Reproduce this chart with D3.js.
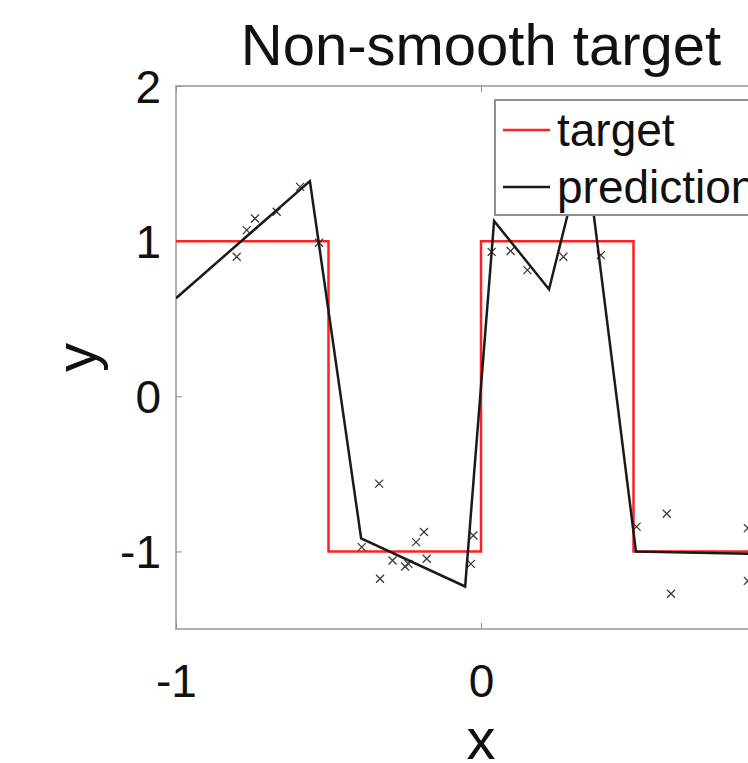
<!DOCTYPE html>
<html>
<head>
<meta charset="utf-8">
<script src="https://cdn.jsdelivr.net/npm/d3@7"></script>
<style>
  body { margin: 0; background: #fff; }
  text { font-family: "Liberation Sans", Arial, sans-serif; fill: #111; }
</style>
</head>
<body>
<svg id="svg_chart"></svg>
<script>
let chartWidth = 748;
let chartHeight = 763;

// square-wave target
let targetX = [-1, -0.5, -0.5, 0, 0, 0.5, 0.5, 1];
let targetY = [1, 1, -1, -1, 1, 1, -1, -1];

// piecewise linear prediction
let predX = [-1, -0.561, -0.393, -0.052, 0.043, 0.223, 0.341, 0.508, 1.0];
let predY = [0.632, 1.387, -0.916, -1.226, 1.13, 0.69, 1.62, -1.0, -1.02];

// noisy training samples
let sampleX = [-0.801, -0.768, -0.741, -0.670, -0.593, -0.531,
    -0.391, -0.334, -0.331, -0.290, -0.249, -0.238, -0.213, -0.187, -0.178, -0.033, -0.025,
    0.035, 0.097, 0.152, 0.270, 0.393,
    0.510, 0.609, 0.623, 0.875, 0.875];
let sampleY = [0.899, 1.071, 1.146, 1.189, 1.35, 0.99,
    -0.972, -0.563, -1.176, -1.058, -1.097, -1.080, -0.940, -0.875, -1.047, -1.080, -0.897,
    0.931, 0.937, 0.813, 0.899, 0.910,
    -0.84, -0.757, -1.273, -0.85, -1.19];

let xTicks = [-1, 0, 1];
let yTicks = [-1, 0, 1, 2];
let legendLabels = ["target", "prediction"];
let legendColors = ["#ff2020", "#1a1a1a"];

let svg = d3.select("#svg_chart")
    .attr("width", chartWidth)
    .attr("height", chartHeight);

let x = d3.scaleLinear().domain([-1, 1]).range([176, 786]);
let y = d3.scaleLinear().domain([-1.5, 2]).range([629, 86]);

svg.append("defs").append("clipPath").attr("id", "plotClip")
    .append("rect")
    .attr("x", x(-1)).attr("y", y(2))
    .attr("width", x(1) - x(-1)).attr("height", y(-1.5) - y(2));

// axes box
svg.append("rect")
    .attr("x", x(-1)).attr("y", y(2))
    .attr("width", x(1) - x(-1)).attr("height", y(-1.5) - y(2))
    .attr("fill", "white")
    .attr("stroke", "#b0b0b0")
    .attr("stroke-width", 2);

// ticks (inside, MATLAB style); plain hyphen for negatives
let fmt = d => String(d);

let xAxis = svg.append("g")
    .attr("transform", "translate(0," + y(-1.5) + ")")
    .call(d3.axisBottom(x).tickValues(xTicks).tickSizeInner(-6).tickSizeOuter(0).tickFormat(fmt));
xAxis.select(".domain").remove();
xAxis.selectAll("line").attr("stroke", "#909090");
xAxis.selectAll("text")
    .attr("y", 68).attr("dy", 0)
    .style("font-size", "46px");

let xAxisTop = svg.append("g")
    .attr("transform", "translate(0," + y(2) + ")")
    .call(d3.axisTop(x).tickValues(xTicks).tickSizeInner(-6).tickSizeOuter(0).tickFormat(""));
xAxisTop.select(".domain").remove();
xAxisTop.selectAll("line").attr("stroke", "#909090");

let yAxis = svg.append("g")
    .attr("transform", "translate(" + x(-1) + ",0)")
    .call(d3.axisLeft(y).tickValues(yTicks).tickSizeInner(-6).tickSizeOuter(0).tickFormat(fmt));
yAxis.select(".domain").remove();
yAxis.selectAll("line").attr("stroke", "#909090");
yAxis.selectAll("text")
    .attr("x", -15).attr("dy", "0.36em")
    .style("font-size", "46px");

let plot = svg.append("g").attr("clip-path", "url(#plotClip)");

let line = d3.line()
    .x(d => x(d[0]))
    .y(d => y(d[1]));

plot.append("path")
    .datum(d3.zip(targetX, targetY))
    .attr("d", line)
    .attr("fill", "none")
    .attr("stroke", legendColors[0])
    .attr("stroke-width", 2.5);

// x markers
let m = 4;
plot.selectAll(".sample")
    .data(d3.zip(sampleX, sampleY))
    .enter().append("path")
    .attr("class", "sample")
    .attr("d", d => {
        let cx = x(d[0]), cy = y(d[1]);
        return "M" + (cx - m) + "," + (cy - m) + "L" + (cx + m) + "," + (cy + m) +
            "M" + (cx - m) + "," + (cy + m) + "L" + (cx + m) + "," + (cy - m);
    })
    .attr("stroke", "#3a3a3a")
    .attr("stroke-width", 1.3);

plot.append("path")
    .datum(d3.zip(predX, predY))
    .attr("d", line)
    .attr("fill", "none")
    .attr("stroke", legendColors[1])
    .attr("stroke-width", 2.5)
    .attr("stroke-linejoin", "miter");

// legend
let legend = svg.append("g").attr("transform", "translate(495,100)");
legend.append("rect")
    .attr("width", 320).attr("height", 115)
    .attr("fill", "white")
    .attr("stroke", "#909090")
    .attr("stroke-width", 2);
legend.selectAll(".entry")
    .data(legendLabels)
    .enter().append("g")
    .attr("class", "entry")
    .attr("transform", (d, i) => "translate(0," + (30 + i * 57) + ")")
    .each(function (d, i) {
        let g = d3.select(this);
        g.append("line")
            .attr("x1", 8).attr("x2", 55)
            .attr("stroke", legendColors[i])
            .attr("stroke-width", 2.5);
        g.append("text")
            .attr("x", 62).attr("dy", "0.35em")
            .style("font-size", "46px")
            .text(d);
    });

// title and labels
svg.append("text")
    .attr("x", x(0)).attr("y", 65)
    .attr("text-anchor", "middle")
    .style("font-size", "58px")
    .text("Non-smooth target");

svg.append("text")
    .attr("x", x(0)).attr("y", 759)
    .attr("text-anchor", "middle")
    .style("font-size", "58px")
    .text("x");

svg.append("text")
    .attr("transform", "translate(96," + ((y(2) + y(-1.5)) / 2) + ") rotate(-90)")
    .attr("text-anchor", "middle")
    .style("font-size", "58px")
    .text("y");
</script>
</body>
</html>
